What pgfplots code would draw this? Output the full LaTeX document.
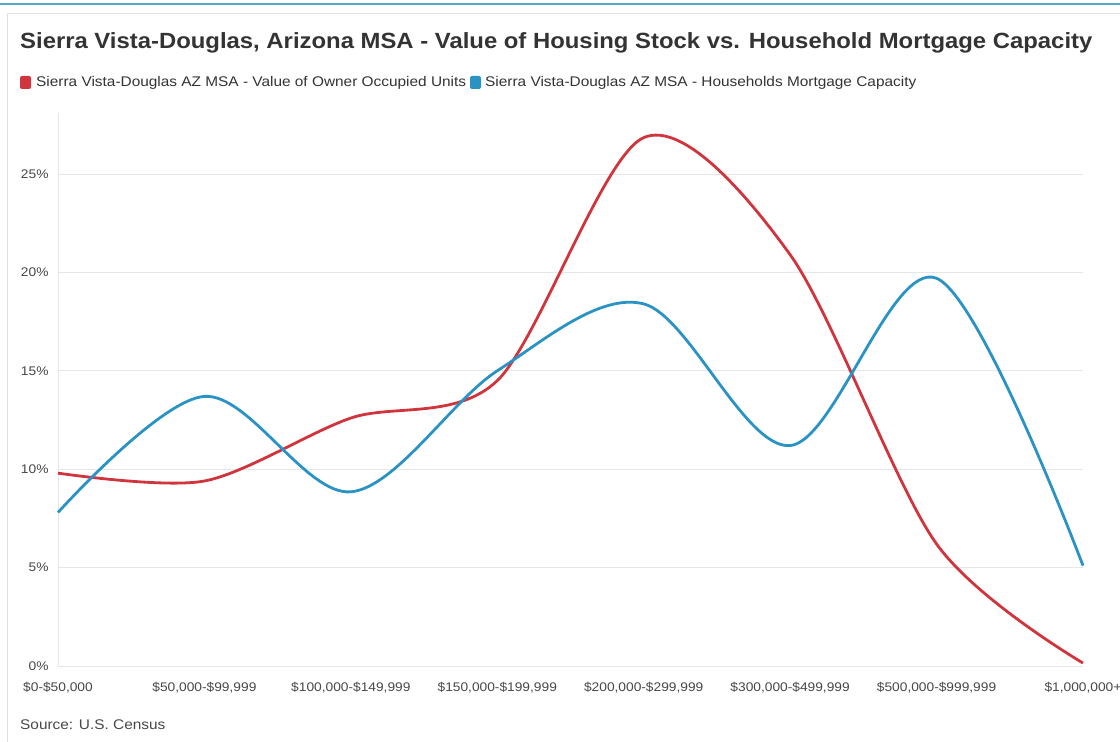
\documentclass[border=0pt]{standalone}
\usepackage{pgfplots}
\pgfplotsset{compat=1.18}
\usepackage{fontspec}
\setmainfont{Liberation Sans}[FakeStretch=1.1]
\newfontfamily\titlefont{Liberation Sans}[FakeStretch=1.085]
\definecolor{cred}{HTML}{D0343C}
\definecolor{cblue}{HTML}{2A93C4}
\definecolor{ctxt}{HTML}{333333}
\definecolor{cgrid}{HTML}{E6E6E6}
\begin{document}
\begin{tikzpicture}[x=1bp,y=1bp]
\path[use as bounding box] (0,0) rectangle (1120,742);
\draw[cblue!80,line width=1.5bp] (0,738) -- (1120,738);
\draw[black!12,line width=1bp] (7,0) -- (7,728) -- (1120,728);
\node[anchor=base west,inner sep=0,text=ctxt,font=\titlefont\fontsize{22bp}{26bp}\selectfont\bfseries] at (20,693) {Sierra Vista-Douglas, Arizona MSA - Value of Housing Stock vs. Household Mortgage Capacity};
\fill[cred,rounded corners=2bp] (20,653) rectangle (31,666);
\node[anchor=base west,inner sep=0,text=ctxt,font=\fontsize{14bp}{17bp}\selectfont] at (36,655) {Sierra Vista-Douglas AZ MSA - Value of Owner Occupied Units};
\fill[cblue,rounded corners=2bp] (470,653) rectangle (481,666);
\node[anchor=base west,inner sep=0,text=ctxt,font=\fontsize{14bp}{17bp}\selectfont] at (485,655) {Sierra Vista-Douglas AZ MSA - Households Mortgage Capacity};
\node[anchor=base west,inner sep=0,text=ctxt!90,font=\fontsize{14bp}{17bp}\selectfont] at (20,12) {Source: U.S. Census};
\begin{axis}[
  at={(58bp,76bp)}, anchor=south west,
  scale only axis, width=1025bp, height=553bp,
  xmin=0, xmax=7, ymin=0, ymax=28.1,
  xtick={0,...,7},
  xticklabels={{\$0-\$50,000},{\$50,000-\$99,999},{\$100,000-\$149,999},{\$150,000-\$199,999},{\$200,000-\$299,999},{\$300,000-\$499,999},{\$500,000-\$999,999},{\$1,000,000+}},
  ytick={0,5,10,15,20,25},
  yticklabel={\pgfmathprintnumber{\tick}\%},
  /pgf/number format/assume math mode=true,
  ymajorgrids, grid style={cgrid,line width=0.8bp},
  axis x line*=bottom, axis y line*=left,
  axis line style={cgrid,line width=0.8bp,-},
  major tick length=0pt,
  tick label style={font=\fontsize{12.5bp}{14bp}\selectfont,text=ctxt!90},
  xticklabel style={yshift=-13bp},
  yticklabel style={xshift=-6bp},
  clip=false,
]
\addplot[cred,line width=2.8bp,smooth,tension=0.5] coordinates {
(0,9.8) (1,9.4) (2,12.6) (3,14.5) (4,26.85) (5,20.9) (6,6.2) (7,0.15)};
\addplot[cblue,line width=2.8bp,smooth,tension=0.55] coordinates {
(0,7.8) (1,13.7) (2,8.85) (3,15.0) (4,18.4) (5,11.2) (6,19.7) (7,5.1)};
\end{axis}
\end{tikzpicture}
\end{document}
